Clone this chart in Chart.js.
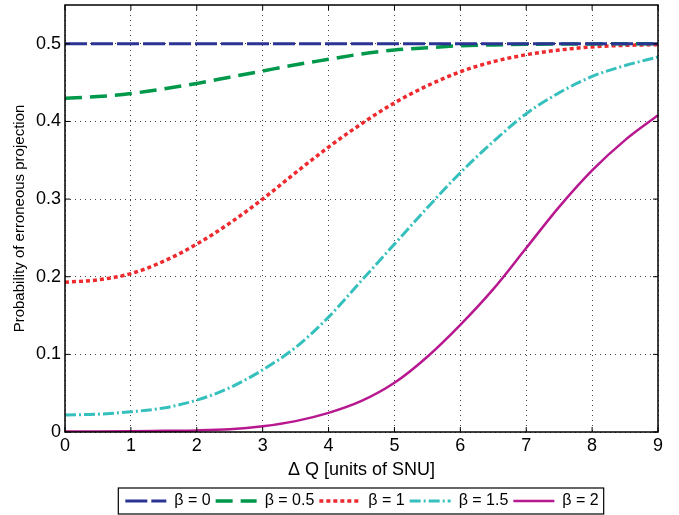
<!DOCTYPE html>
<html>
<head>
<meta charset="utf-8">
<script src="https://cdn.jsdelivr.net/npm/chart.js@4.4.1/dist/chart.umd.min.js"></script>
<style>
  html, body { margin: 0; padding: 0; background: #fff; }
  #wrap { width: 679px; height: 515px; }
</style>
</head>
<body>
<div id="wrap"><canvas id="probChart" width="679" height="515"></canvas></div>
<script>
// data
const deltaQ = [0, 0.5, 1, 1.5, 2, 2.5, 3, 3.5, 4, 4.5, 5, 5.5, 6, 6.5, 7, 7.5, 8, 8.5, 9];
const beta0   = [0.5, 0.5, 0.5, 0.5, 0.5, 0.5, 0.5, 0.5, 0.5, 0.5, 0.5, 0.5, 0.5, 0.5, 0.5, 0.5, 0.5, 0.5, 0.5];
const beta05  = [0.430, 0.432, 0.436, 0.442, 0.449, 0.457, 0.465, 0.473, 0.480, 0.487, 0.492, 0.495, 0.4975, 0.4985, 0.4993, 0.4997, 0.4999, 0.5, 0.5];
const beta1   = [0.193, 0.196, 0.204, 0.220, 0.242, 0.269, 0.300, 0.334, 0.367, 0.397, 0.424, 0.446, 0.464, 0.477, 0.486, 0.492, 0.496, 0.498, 0.499];
const beta15  = [0.022, 0.023, 0.026, 0.031, 0.041, 0.057, 0.080, 0.109, 0.148, 0.195, 0.242, 0.289, 0.334, 0.374, 0.410, 0.437, 0.458, 0.472, 0.483];
const beta2   = [0.0005, 0.0007, 0.001, 0.0015, 0.002, 0.0035, 0.0074, 0.014, 0.0246, 0.040, 0.0634, 0.097, 0.138, 0.184, 0.237, 0.290, 0.337, 0.376, 0.408];
const seriesLabels = ["β = 0", "β = 0.5", "β = 1", "β = 1.5", "β = 2"];
const xTicks = [0, 1, 2, 3, 4, 5, 6, 7, 8, 9];
const yTicks = [0, 0.1, 0.2, 0.3, 0.4, 0.5];

const FONT = "'Liberation Sans', Arial, sans-serif";
const LEGEND_DX = 33, LEGEND_DY = 7;

function toPoints(ys) {
  return deltaQ.map((x, i) => ({ x: x, y: ys[i] }));
}

// box around plot, inward tick marks, box around legend
const framePlugin = {
  id: "frame",
  afterUpdate(chart) {
    // move the legend under the middle of the plot area
    const lg = chart.legend;
    if (!lg) return;
    lg.left += LEGEND_DX; lg.right += LEGEND_DX;
    lg.top += LEGEND_DY; lg.bottom += LEGEND_DY;
  },
  afterDraw(chart) {
    const ctx = chart.ctx;
    const a = chart.chartArea;
    const xs = chart.scales.x, ys = chart.scales.y;
    ctx.save();
    ctx.strokeStyle = "#000";
    ctx.setLineDash([]);
    ctx.lineWidth = 1;
    ctx.beginPath();
    xTicks.forEach(v => {
      const px = xs.getPixelForValue(v);
      ctx.moveTo(px, a.bottom); ctx.lineTo(px, a.bottom - 5);
      ctx.moveTo(px, a.top); ctx.lineTo(px, a.top + 5);
    });
    yTicks.forEach(v => {
      const py = ys.getPixelForValue(v);
      ctx.moveTo(a.left, py); ctx.lineTo(a.left + 5, py);
      ctx.moveTo(a.right, py); ctx.lineTo(a.right - 5, py);
    });
    ctx.stroke();

    ctx.lineWidth = 1.5;
    ctx.strokeRect(a.left, a.top, a.right - a.left, a.bottom - a.top);

    // hit boxes were laid out before the shift, so add it here
    const boxes = chart.legend && chart.legend.legendHitBoxes;
    if (boxes && boxes.length) {
      const first = boxes[0];
      const last = boxes[boxes.length - 1];
      const x0 = first.left + LEGEND_DX - 7;
      const x1 = last.left + last.width + LEGEND_DX + 5;
      const y0 = first.top + LEGEND_DY - 5;
      const y1 = first.top + first.height + LEGEND_DY + 5;
      ctx.lineWidth = 1.2;
      ctx.strokeRect(x0, y0, x1 - x0, y1 - y0);
    }
    ctx.restore();
  }
};

const ctx = document.getElementById("probChart").getContext("2d");
new Chart(ctx, {
  type: "line",
  data: {
    datasets: [
      { label: seriesLabels[0], data: toPoints(beta0),  borderColor: "#2b3494", borderWidth: 3,   borderDash: [22, 4] },
      { label: seriesLabels[1], data: toPoints(beta05), borderColor: "#00984a", borderWidth: 3.5, borderDash: [17, 8] },
      { label: seriesLabels[2], data: toPoints(beta1),  borderColor: "#ee2a2e", borderWidth: 3.5, borderDash: [4, 3] },
      { label: seriesLabels[3], data: toPoints(beta15), borderColor: "#36c0bd", borderWidth: 3,   borderDash: [11, 3, 2, 3] },
      { label: seriesLabels[4], data: toPoints(beta2),  borderColor: "#b8188f", borderWidth: 2.5, borderDash: [] }
    ]
  },
  options: {
    responsive: false,
    animation: false,
    parsing: false,
    layout: { padding: { left: 0, right: 21, top: 5, bottom: 3 } },
    elements: {
      point: { radius: 0 },
      line: { cubicInterpolationMode: "monotone", fill: false }
    },
    scales: {
      x: {
        type: "linear",
        min: 0,
        max: 9,
        afterBuildTicks: (scale) => { scale.ticks = xTicks.map(v => ({ value: v })); },
        afterFit: (scale) => { scale.height = 49; },
        ticks: { color: "#000", font: { family: FONT, size: 18 }, padding: 3, maxRotation: 0 },
        grid: { color: "#444", lineWidth: 1, drawTicks: false },
        border: { display: false, dash: [1, 4] },
        title: { display: true, text: "Δ Q [units of SNU]", color: "#000", font: { family: FONT, size: 18 }, padding: { top: 0, bottom: 0 } }
      },
      y: {
        min: 0,
        max: 0.55,
        afterBuildTicks: (scale) => { scale.ticks = yTicks.map(v => ({ value: v })); },
        afterFit: (scale) => { scale.width = 65; scale.paddingTop = 0; scale.paddingBottom = 0; },
        ticks: { color: "#000", font: { family: FONT, size: 18 }, padding: 4, callback: (v) => String(v) },
        grid: { color: "#444", lineWidth: 1, drawTicks: false },
        border: { display: false, dash: [1, 4] },
        title: { display: true, text: "Probability of erroneous projection", color: "#000", font: { family: FONT, size: 15 }, padding: { top: 11, bottom: 0 } }
      }
    },
    plugins: {
      legend: {
        position: "bottom",
        labels: {
          usePointStyle: true,
          pointStyle: "line",
          pointStyleWidth: 41,
          color: "#000",
          font: { family: FONT, size: 16 },
          padding: 5,
          generateLabels(chart) {
            const items = Chart.defaults.plugins.legend.labels.generateLabels(chart);
            items.forEach(it => {
              const ds = chart.data.datasets[it.datasetIndex];
              it.lineDash = ds.borderDash;
              it.lineWidth = ds.borderWidth;
              it.strokeStyle = ds.borderColor;
              it.pointStyle = "line";
            });
            return items;
          }
        }
      },
      tooltip: { enabled: false }
    }
  },
  plugins: [framePlugin]
});
</script>
</body>
</html>
